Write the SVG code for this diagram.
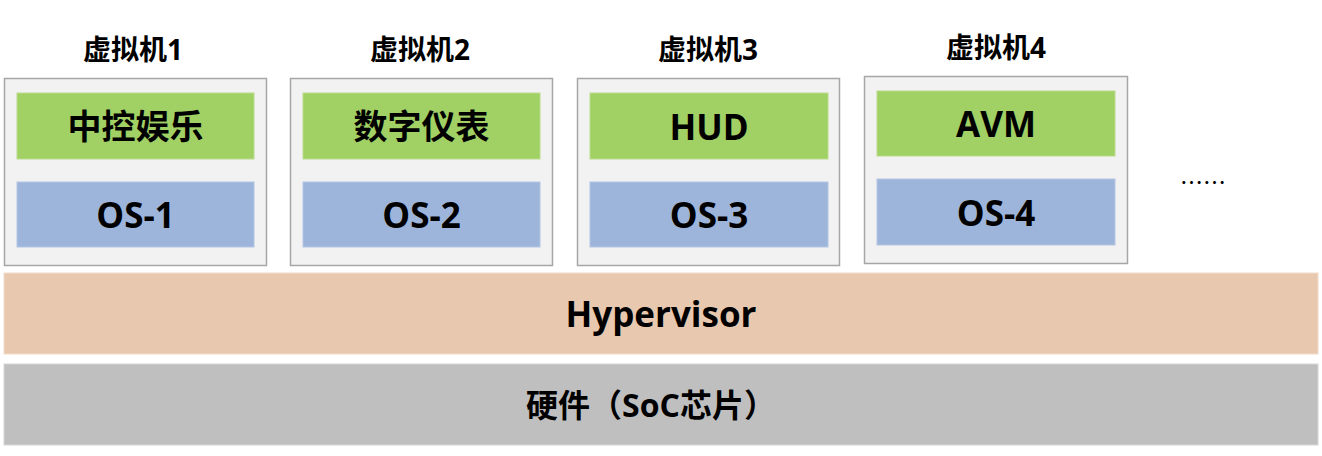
<svg xmlns="http://www.w3.org/2000/svg" width="1322" height="456" viewBox="0 0 1322 456">
<style>
text{font-family:"Open Sans","Noto Sans CJK SC",sans-serif;font-weight:bold;fill:#000;text-anchor:middle;dominant-baseline:central}
.vm{fill:#f2f2f2;stroke:#a6a6a6;stroke-width:1.5}
.app{fill:#a1d064;stroke:#b9dc8c;stroke-width:1}
.os{fill:#9db5da;stroke:#b4c6e4;stroke-width:1}
.title{font-size:28px}
.cjk{font-size:34px}
.lat{font-size:35px}
.hwt{font-size:32px}
.hyp{fill:#e8c8ae;stroke:#f2dccb;stroke-width:1}
.hw{fill:#bfbfbf;stroke:#d6d6d6;stroke-width:1}
.dots{font-family:"Noto Sans CJK SC",sans-serif;font-weight:normal;font-size:23px}
</style>
<rect width="1322" height="456" fill="#fff"/>
<g id="vm1">
<text class="title" x="133" y="49">虚拟机1</text>
<rect class="vm" x="4.5" y="78.5" width="262" height="187"/>
<rect class="app" x="17" y="93" width="237" height="66"/>
<text class="cjk" x="135.5" y="126">中控娱乐</text>
<rect class="os" x="17" y="182" width="237" height="65"/>
<text class="lat" x="135.5" y="214.5">OS-1</text>
</g>
<g id="vm2">
<text class="title" x="420" y="49">虚拟机2</text>
<rect class="vm" x="290.5" y="78.5" width="262" height="187"/>
<rect class="app" x="303" y="93" width="237" height="66"/>
<text class="cjk" x="421.5" y="126">数字仪表</text>
<rect class="os" x="303" y="182" width="237" height="65"/>
<text class="lat" x="421.5" y="214.5">OS-2</text>
</g>
<g id="vm3">
<text class="title" x="708" y="49">虚拟机3</text>
<rect class="vm" x="577.5" y="78.5" width="262" height="187"/>
<rect class="app" x="590" y="93" width="238" height="66"/>
<text class="lat" x="709" y="126">HUD</text>
<rect class="os" x="590" y="182" width="238" height="65"/>
<text class="lat" x="709" y="214.5">OS-3</text>
</g>
<g id="vm4">
<text class="title" x="996" y="47">虚拟机4</text>
<rect class="vm" x="864.5" y="76.5" width="263" height="187"/>
<rect class="app" x="877" y="91" width="238" height="65"/>
<text class="lat" x="996" y="123.5">AVM</text>
<rect class="os" x="877" y="179" width="238" height="66"/>
<text class="lat" x="996" y="212">OS-4</text>
</g>
<g id="more">
<text class="dots" x="1203" y="181">……</text>
</g>
<g id="hypervisor">
<rect class="hyp" x="4" y="273" width="1314" height="81"/>
<text class="lat" x="661" y="313.5">Hypervisor</text>
</g>
<g id="hardware">
<rect class="hw" x="4" y="364" width="1314" height="81"/>
<text class="hwt" x="651" y="404.5">硬件（SoC芯片）</text>
</g>
<g id="connectors"></g>
</svg>
